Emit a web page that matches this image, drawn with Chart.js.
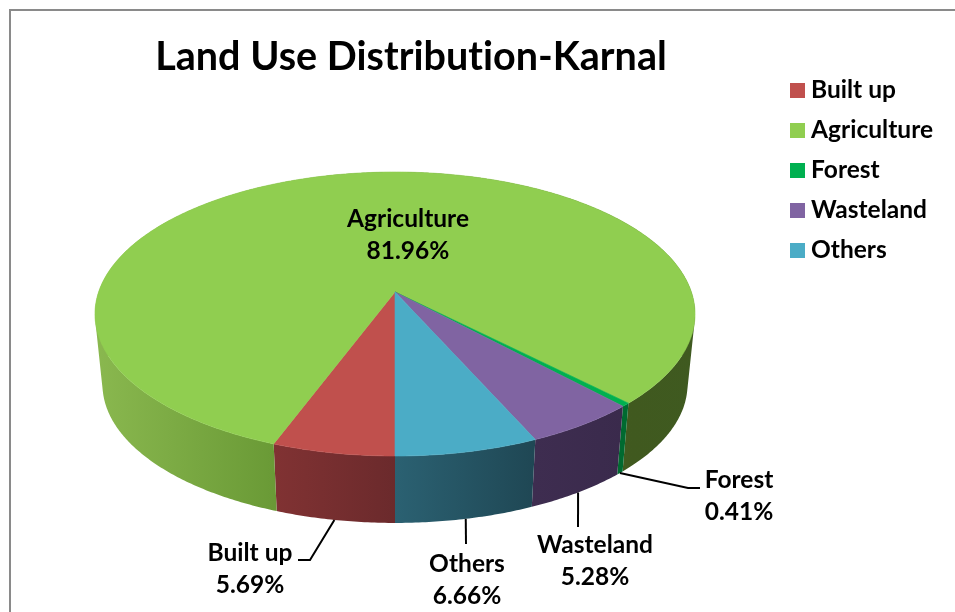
<!DOCTYPE html>
<html>
<head>
<meta charset="utf-8">
<title>Land Use Distribution-Karnal</title>
<script src="https://cdn.jsdelivr.net/npm/chart.js@4"></script>
<style>
  body { margin: 0; background: #fff; }
  #wrap { position: relative; width: 955px; height: 612px; overflow: hidden; }
  #frame { position: absolute; left: 9px; top: 9px; right: -5px; bottom: -5px; border: 2px solid #8a8a8a; }
  canvas { position: absolute; left: 0; top: 0; }
</style>
</head>
<body>
<div id="wrap">
  <div id="frame"></div>
  <canvas id="myChart" width="955" height="612"></canvas>
</div>
<script>
const chartTitle = "Land Use Distribution-Karnal";
const categories = ["Built up", "Agriculture", "Forest", "Wasteland", "Others"];
const shares = [5.69, 81.96, 0.41, 5.28, 6.66];
const sliceColors = ["#c0504d", "#90ce50", "#00b050", "#8064a2", "#4bacc6"];

// side wall shading, [fraction of pie width, colour]
const wallShades = [
  [[0.2, "#8b3636"], [0.5, "#6b2a2c"]],
  [[0, "#8ab84f"], [0.297, "#6a9a36"], [0.895, "#40591f"], [1, "#3f5a20"]],
  [[0, "#006a30"], [1, "#006a30"]],
  [[0.733, "#3e2d50"], [0.95, "#38294a"]],
  [[0.5, "#2b6172"], [0.733, "#1f4754"]],
];

const FONT = "Lato, sans-serif";

// tilted disc, the near edge comes out bigger than the far edge
const disc = { x: 395, y: 292, a: 296.4, b: 138.6, k: 0.155 };
const wall = { drop: 71, shrink: 0.975 };

// where each data label and its leader line go
const labelSpots = [
  { x: 250, y: 553, bend: [[310, 560], [298, 560]] },
  { x: 408, y: 219 },
  { x: 739, y: 480, bend: [[688, 488], [700, 488]] },
  { x: 595, y: 545, bend: [[578, 527]] },
  { x: 467, y: 564, bend: [[466, 544]] },
];

const project = (angle, lower) => {
  const s = lower ? wall.shrink : 1;
  const u = Math.cos(angle);
  const v = Math.sin(angle);
  const w = 1 - disc.k * v;
  return {
    x: disc.x + (s * disc.a * u) / w,
    y: disc.y + (lower ? wall.drop : 0) + (s * disc.b * v) / w,
  };
};

const arcPoints = (arc, lower) => {
  const pts = [];
  const n = Math.max(2, Math.ceil((arc.endAngle - arc.startAngle) / 0.01));
  for (let i = 0; i <= n; i++) {
    pts.push(project(arc.startAngle + ((arc.endAngle - arc.startAngle) * i) / n, lower));
  }
  return pts;
};

const addLoop = (ctx, pts) => {
  pts.forEach((p, i) => (i ? ctx.lineTo(p.x, p.y) : ctx.moveTo(p.x, p.y)));
  ctx.closePath();
};

const paint = (ctx, fill) => {
  ctx.fillStyle = fill;
  ctx.strokeStyle = fill;
  ctx.lineWidth = 0.6;
  ctx.fill();
  ctx.stroke();
};

const area = (q) =>
  q.reduce((sum, p, i) => {
    const n = q[(i + 1) % q.length];
    return sum + p.x * n.y - n.x * p.y;
  }, 0);

// square legend swatch, drawn wider than its slot so the text sits close to it
const swatch = (color) => {
  const c = document.createElement("canvas");
  c.width = 15;
  c.height = 15;
  const g = c.getContext("2d");
  g.fillStyle = color;
  g.fillRect(0, 0, 15, 15);
  return c;
};

const pie3d = {
  id: "pie3d",
  afterLayout(chart) {
    const t = chart.titleBlock;
    t.left = 0;
    t.right = 822;
    const l = chart.legend;
    l.left = 796.25 - 15.5;
    l.right = 955;
    l.top = 78.25 - 15.5;
    l.bottom = l.top + 240;
  },
  beforeDraw(chart) {
    chart.ctx.letterSpacing = "0.02px"; // stops Lato's "ti" ligature
  },
  beforeDatasetsDraw(chart) {
    const ctx = chart.ctx;
    const arcs = chart.getDatasetMeta(0).data;
    ctx.save();
    arcs.forEach((arc, i) => {
      const grad = ctx.createLinearGradient(95, 0, 695, 0);
      wallShades[i].forEach(([at, color]) => grad.addColorStop(at, color));
      const top = arcPoints(arc, false);
      const low = arcPoints(arc, true);
      // quads all wound the same way, a single outline cancels itself out at the sides
      ctx.beginPath();
      for (let k = 0; k < top.length - 1; k++) {
        const quad = [top[k], top[k + 1], low[k + 1], low[k]];
        addLoop(ctx, area(quad) < 0 ? quad.reverse() : quad);
      }
      ctx.fillStyle = grad;
      ctx.fill();
    });
    arcs.forEach((arc, i) => {
      ctx.beginPath();
      addLoop(ctx, [{ x: disc.x, y: disc.y }].concat(arcPoints(arc, false)));
      paint(ctx, sliceColors[i]);
    });
    ctx.restore();
    return false;
  },
  afterDraw(chart) {
    const ctx = chart.ctx;
    const arcs = chart.getDatasetMeta(0).data;
    ctx.save();
    ctx.strokeStyle = "#000";
    ctx.lineWidth = 2;
    arcs.forEach((arc, i) => {
      const spot = labelSpots[i];
      if (spot.bend) {
        const from = project((arc.startAngle + arc.endAngle) / 2, true);
        ctx.beginPath();
        ctx.moveTo(from.x, from.y);
        spot.bend.forEach(([x, y]) => ctx.lineTo(x, y));
        ctx.stroke();
      }
      ctx.fillStyle = "#000";
      ctx.font = "bold 24.5px " + FONT;
      ctx.textAlign = "center";
      ctx.textBaseline = "middle";
      ctx.fillText(categories[i], spot.x, spot.y);
      ctx.fillText(shares[i].toFixed(2) + "%", spot.x, spot.y + 32);
    });
    ctx.restore();
  },
};

new Chart(document.getElementById("myChart"), {
  type: "pie",
  data: {
    labels: categories,
    datasets: [{ data: shares, backgroundColor: sliceColors, borderWidth: 0 }],
  },
  options: {
    responsive: false,
    animation: false,
    rotation: 180,
    plugins: {
      tooltip: { enabled: false },
      title: {
        display: true,
        text: chartTitle,
        color: "#000",
        font: { family: FONT, size: 39.5, weight: "bold" },
        padding: { top: 34, bottom: 6 },
      },
      legend: {
        position: "right",
        align: "start",
        labels: {
          color: "#000",
          font: { family: FONT, size: 24.5, weight: "bold" },
          usePointStyle: true,
          pointStyleWidth: 2.5,
          boxHeight: 15,
          padding: 15.5,
          generateLabels: () =>
            categories.map((name, i) => ({
              text: name,
              fillStyle: sliceColors[i],
              strokeStyle: sliceColors[i],
              lineWidth: 0,
              pointStyle: swatch(sliceColors[i]),
              index: i,
            })),
        },
      },
    },
  },
  plugins: [pie3d],
});
</script>
</body>
</html>
